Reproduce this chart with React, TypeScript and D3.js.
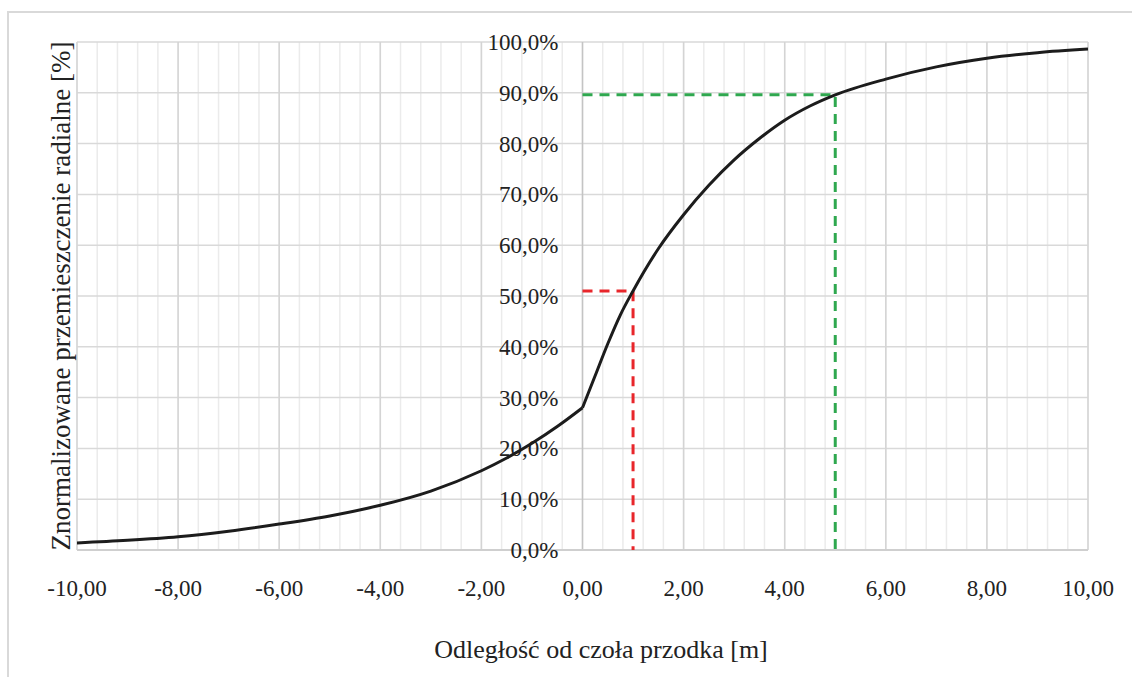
import { useEffect, useRef } from 'react'
import * as d3 from 'd3'

// odległość od czoła przodka [m] and normalized radial displacement [%]
const distances = [-10, -9, -8, -7, -6, -5, -4, -3, -2, -1.5, -1, -0.5, 0, 0.25, 0.5, 0.75, 1, 1.5, 2, 2.5, 3, 3.5, 4, 4.5, 5, 6, 7, 8, 9, 10]
const displacement = [1.4, 1.9, 2.6, 3.7, 5.1, 6.7, 8.8, 11.6, 15.6, 18.1, 21.0, 24.3, 28.0, 34.3, 40.6, 46.3, 51.0, 59.3, 66.0, 71.8, 76.8, 81.0, 84.6, 87.4, 89.6, 92.7, 95.1, 96.8, 97.9, 98.6]

const xTicks = [-10, -8, -6, -4, -2, 0, 2, 4, 6, 8, 10]
const yTicks = [0, 10, 20, 30, 40, 50, 60, 70, 80, 90, 100]

// guide lines: [x, y%]
const redMarker = [1, 51]
const greenMarker = [5, 89.6]

export default function App() {
    const svgRef = useRef(null)

    useEffect(() => {
        const width = 1132
        const height = 677
        const marginLeft = 77
        const marginRight = 44
        const marginTop = 42
        const marginBottom = 127

        const x = d3.scaleLinear().domain([-10, 10]).range([marginLeft, width - marginRight])
        const y = d3.scaleLinear().domain([0, 100]).range([height - marginBottom, marginTop])

        const svg = d3.select(svgRef.current)
        svg.selectAll('*').remove()
        svg.attr('width', width).attr('height', height)

        svg.append('rect').attr('width', width).attr('height', height).attr('fill', 'white')
        // outer frame
        svg.append('rect')
            .attr('x', 8).attr('y', 12)
            .attr('width', width + 10).attr('height', height + 10)
            .attr('fill', 'none').attr('stroke', '#d9d9d9').attr('stroke-width', 2)

        // minor vertical grid
        const minor = d3.range(-10, 10.001, 0.4)
        svg.append('g')
            .selectAll('line')
            .data(minor)
            .join('line')
            .attr('x1', d => x(d)).attr('x2', d => x(d))
            .attr('y1', y(0)).attr('y2', y(100))
            .attr('stroke', '#ebebeb').attr('stroke-width', 1.5)
        // horizontal grid
        svg.append('g')
            .selectAll('line')
            .data(yTicks)
            .join('line')
            .attr('x1', x(-10)).attr('x2', x(10))
            .attr('y1', d => y(d)).attr('y2', d => y(d))
            .attr('stroke', '#d9d9d9').attr('stroke-width', 1.5)
        // major vertical grid
        svg.append('g')
            .selectAll('line')
            .data(xTicks)
            .join('line')
            .attr('x1', d => x(d)).attr('x2', d => x(d))
            .attr('y1', y(0)).attr('y2', y(100))
            .attr('stroke', d => d === 0 ? '#c4c4c4' : '#d4d4d4').attr('stroke-width', 1.5)

        // x axis line
        svg.append('line')
            .attr('x1', x(-10)).attr('x2', x(10))
            .attr('y1', y(0)).attr('y2', y(0))
            .attr('stroke', '#cfcfcf').attr('stroke-width', 2)

        // tick labels
        svg.append('g')
            .selectAll('text')
            .data(xTicks)
            .join('text')
            .attr('x', d => x(d))
            .attr('y', y(0) + 46)
            .attr('text-anchor', 'middle')
            .style('font-family', '"Liberation Serif", serif')
            .style('font-size', '23px')
            .style('fill', '#222')
            .text(d => d.toFixed(2).replace('.', ','))
        svg.append('g')
            .selectAll('text')
            .data(yTicks)
            .join('text')
            .attr('x', x(0) - 24)
            .attr('y', d => y(d))
            .attr('dy', '0.35em')
            .attr('text-anchor', 'end')
            .style('font-family', '"Liberation Serif", serif')
            .style('font-size', '23px')
            .style('fill', '#222')
            .text(d => d.toFixed(1).replace('.', ',') + '%')

        // guide lines
        const guides = [[redMarker, '#e8262b'], [greenMarker, '#2fa84f']]
        guides.forEach(([m, color]) => {
            const [mx, my] = m
            svg.append('path')
                .attr('d', `M${x(0)},${y(my)}H${x(mx)}V${y(0)}`)
                .attr('fill', 'none')
                .attr('stroke', color)
                .attr('stroke-width', 3)
                .attr('stroke-dasharray', '10,7')
        })

        // curve, with a kink at the face (x = 0)
        const points = distances.map((d, i) => [d, displacement[i]])
        const line = d3.line()
            .x(d => x(d[0]))
            .y(d => y(d[1]))
            .curve(d3.curveMonotoneX)
        const parts = [points.filter(p => p[0] <= 0), points.filter(p => p[0] >= 0)]
        svg.append('g')
            .selectAll('path')
            .data(parts)
            .join('path')
            .attr('d', line)
            .attr('fill', 'none')
            .attr('stroke', '#1c1c1c')
            .attr('stroke-width', 3)
            .attr('stroke-linejoin', 'round')

        // axis titles
        svg.append('text')
            .attr('x', 601)
            .attr('y', 658)
            .attr('text-anchor', 'middle')
            .style('font-family', '"Liberation Serif", serif')
            .style('font-size', '26px')
            .style('fill', '#222')
            .text('Odległość od czoła przodka [m]')
        svg.append('text')
            .attr('transform', `translate(70,${(y(0) + y(100)) / 2}) rotate(-90)`)
            .attr('text-anchor', 'middle')
            .style('font-family', '"Liberation Serif", serif')
            .style('font-size', '27px')
            .style('fill', '#222')
            .text('Znormalizowane przemieszczenie radialne [%]')
    }, [])

    return (
        <svg ref={svgRef} style={{ position: 'absolute', left: 0, top: 0, display: 'block' }}></svg>
    )
}
